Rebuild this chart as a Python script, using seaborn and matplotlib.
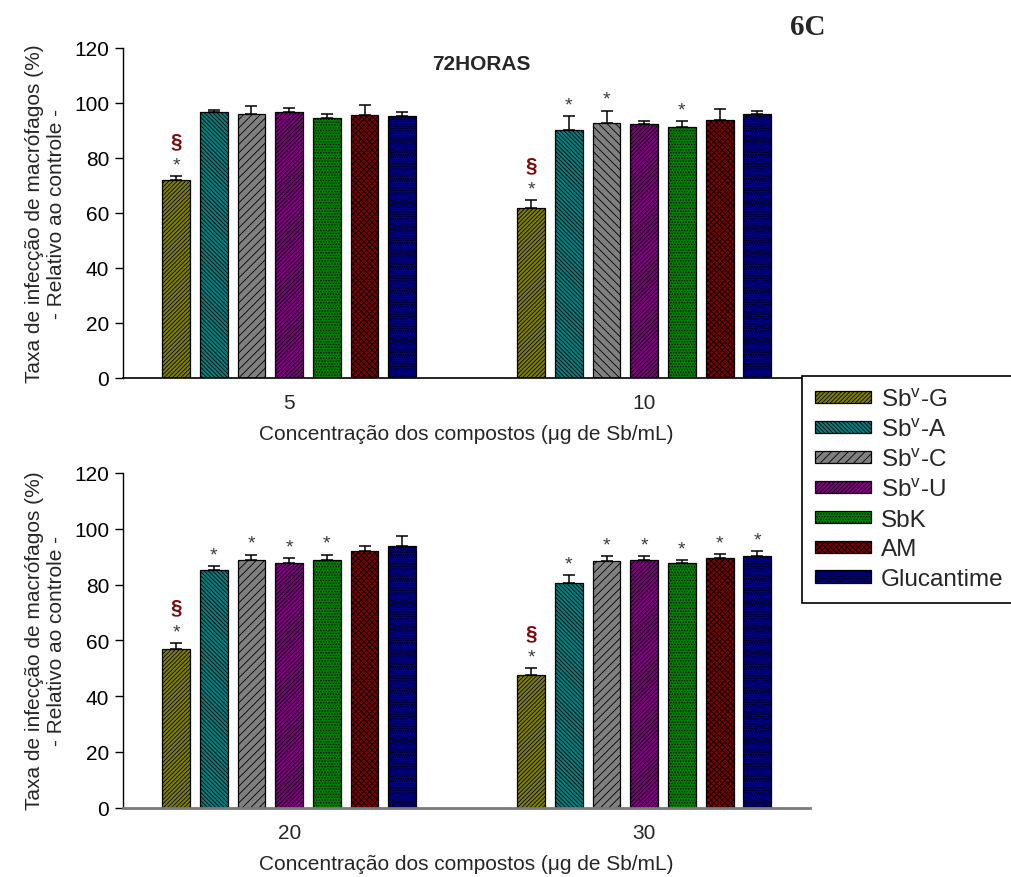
import numpy as np
import pandas as pd
import matplotlib
matplotlib.use("Agg")
import matplotlib.pyplot as plt
import matplotlib.transforms as mtransforms
from matplotlib.patches import Patch
import seaborn as sns

# ---- data -------------------------------------------------------------
compostos = ["Sbᵛ-G", "Sbᵛ-A", "Sbᵛ-C", "Sbᵛ-U", "SbK", "AM", "Glucantime"]
rotulos = [r"Sb$^{\mathrm{v}}$-G", r"Sb$^{\mathrm{v}}$-A", r"Sb$^{\mathrm{v}}$-C",
           r"Sb$^{\mathrm{v}}$-U", "SbK", "AM", "Glucantime"]
cores = ["#808000", "#008080", "#808080", "#800080", "#008000", "#800000", "#000080"]
hachuras = ["////////", "\\\\\\\\\\\\\\\\", "////", "////////", "......", "xxxxxx", "......."]

conc_sup = ["5", "10"]
conc_inf = ["20", "30"]

media_5 = [71.9, 96.8, 95.8, 96.7, 94.7, 95.5, 95.4]
erro_5 = [1.4, 0.8, 3.2, 1.4, 1.1, 3.7, 1.4]
media_10 = [61.9, 90.3, 92.7, 92.5, 91.3, 93.7, 96.0]
erro_10 = [2.7, 4.9, 4.5, 1.0, 2.0, 4.2, 1.1]
media_20 = [56.8, 85.1, 88.9, 87.8, 88.8, 92.2, 94.0]
erro_20 = [2.2, 1.4, 1.8, 1.6, 1.9, 1.6, 3.3]
media_30 = [47.6, 80.6, 88.6, 88.9, 87.8, 89.7, 90.1]
erro_30 = [2.4, 2.9, 1.7, 1.4, 0.9, 1.2, 2.0]

# significance marks (* vs control, § vs Glucantime)
asterisco_5 = [1, 0, 0, 0, 0, 0, 0]
asterisco_10 = [1, 1, 1, 0, 1, 0, 0]
asterisco_20 = [1, 1, 1, 1, 1, 0, 0]
asterisco_30 = [1, 1, 1, 1, 1, 1, 1]
paragrafo_5 = [1, 0, 0, 0, 0, 0, 0]
paragrafo_10 = [1, 0, 0, 0, 0, 0, 0]
paragrafo_20 = [1, 0, 0, 0, 0, 0, 0]
paragrafo_30 = [1, 0, 0, 0, 0, 0, 0]

medias = {"5": media_5, "10": media_10, "20": media_20, "30": media_30}
erros = {"5": erro_5, "10": erro_10, "20": erro_20, "30": erro_30}
asteriscos = {"5": asterisco_5, "10": asterisco_10, "20": asterisco_20, "30": asterisco_30}
paragrafos = {"5": paragrafo_5, "10": paragrafo_10, "20": paragrafo_20, "30": paragrafo_30}
# the Sb-C bar at 10 ug/mL uses the opposite diagonal
hachura_especial = {("10", "Sbᵛ-C"): "\\\\\\\\"}

sns.set_style("ticks")
plt.rcParams["font.family"] = ["Liberation Sans", "DejaVu Sans"]
plt.rcParams["mathtext.fontset"] = "custom"
plt.rcParams["mathtext.rm"] = "Liberation Sans"
plt.rcParams["mathtext.it"] = "Liberation Sans:italic"
plt.rcParams["mathtext.bf"] = "Liberation Sans:bold"
plt.rcParams["hatch.linewidth"] = 0.6

fig = plt.figure(figsize=(10.12, 8.78), dpi=100)
W, H = 1012, 878


def eixo(x0, x1, ytop, ybot):
    return fig.add_axes([x0 / W, 1 - ybot / H, (x1 - x0) / W, (ybot - ytop) / H])


ax_sup = eixo(123, 810, 49, 378.7)
ax_inf = eixo(123, 810, 474, 808.7)

ylabel = "Taxa de infecção de macrófagos (%)\n- Relativo ao controle -"
xlabel = "Concentração dos compostos (μg de Sb/mL)"


def painel(ax, concs, cor_eixo_x, lw_eixo_x):
    linhas = []
    for c in concs:
        for comp, m in zip(compostos, medias[c]):
            linhas.append({"conc": c, "composto": comp, "taxa": m})
    df = pd.DataFrame(linhas)
    sns.barplot(data=df, x="conc", y="taxa", hue="composto", order=concs,
                hue_order=compostos, palette=cores, errorbar=None,
                width=0.743, gap=0.26, edgecolor="black", linewidth=0.9,
                saturation=1, legend=False, ax=ax, zorder=2)
    barras = list(ax.containers)
    for i, cont in enumerate(barras):
        comp = compostos[i]
        for p in cont.patches:
            xc = p.get_x() + p.get_width() / 2
            k = int(round(xc))
            c = concs[k]
            p.set_hatch(hachura_especial.get((c, comp), hachuras[i]))
            m = medias[c][i]
            e = erros[c][i]
            ax.errorbar([xc], [m], yerr=[[0], [e]], fmt="none", ecolor="black",
                        elinewidth=1.1, capsize=4.3, capthick=1.1, zorder=3)
            if asteriscos[c][i]:
                ax.annotate("*", (xc, m + e), xytext=(0, 2), textcoords="offset points",
                            ha="center", va="bottom", fontsize=14, color="#3a3a3a")
            if paragrafos[c][i]:
                ax.annotate("§", (xc, m + e), xytext=(0, 19), textcoords="offset points",
                            ha="center", va="bottom", fontsize=15, fontweight="bold",
                            color="#7a0c0c")
    ax.set_xlim(-0.468, 1.467)
    ax.set_ylim(0, 120)
    ax.set_yticks(np.arange(0, 121, 20))
    ax.tick_params(axis="y", direction="out", length=6, width=1, labelsize=15,
                   pad=4, colors="black")
    ax.tick_params(axis="x", length=0, labelsize=15, pad=11)
    sns.despine(ax=ax)
    ax.spines["left"].set_color("black")
    ax.spines["left"].set_linewidth(1)
    ax.spines["bottom"].set_color(cor_eixo_x)
    ax.spines["bottom"].set_linewidth(lw_eixo_x)
    ax.set_xlabel(xlabel, fontsize=15, labelpad=9)
    ax.set_ylabel("")
    ax.patch.set_alpha(0)


painel(ax_sup, conc_sup, "black", 1.2)
painel(ax_inf, conc_inf, "#7a7a7a", 2.0)

# y labels (two lines) for each panel
fig.text(45.5 / W, 1 - 214 / H, ylabel, rotation=90, ha="center", va="center",
         multialignment="center", fontsize=15)
fig.text(45.5 / W, 1 - 641 / H, ylabel, rotation=90, ha="center", va="center",
         multialignment="center", fontsize=15)

trans = mtransforms.blended_transform_factory(ax_sup.transAxes, ax_sup.transData)
ax_sup.text(0.521, 114.5, "72HORAS", transform=trans,
            ha="center", va="center", fontsize=15, fontweight="bold")

fig.text(808 / W, 1 - 14 / H, "6C", ha="center", va="top", fontsize=21,
         fontweight="bold", family="Liberation Serif")

# legend
alcas = [Patch(facecolor=c, edgecolor="black", hatch=h, linewidth=0.9)
         for c, h in zip(cores, hachuras)]
leg = fig.legend(alcas, rotulos, loc="upper left",
                 bbox_to_anchor=(802 / W, 1 - 377 / H), borderaxespad=0,
                 fontsize=17.5, handlelength=2.3, handleheight=0.4,
                 handletextpad=0.44, labelspacing=0.32, borderpad=0.52,
                 fancybox=False, framealpha=1, edgecolor="black")
leg.get_frame().set_linewidth(1.2)

fig.savefig("out.png", dpi=100)
